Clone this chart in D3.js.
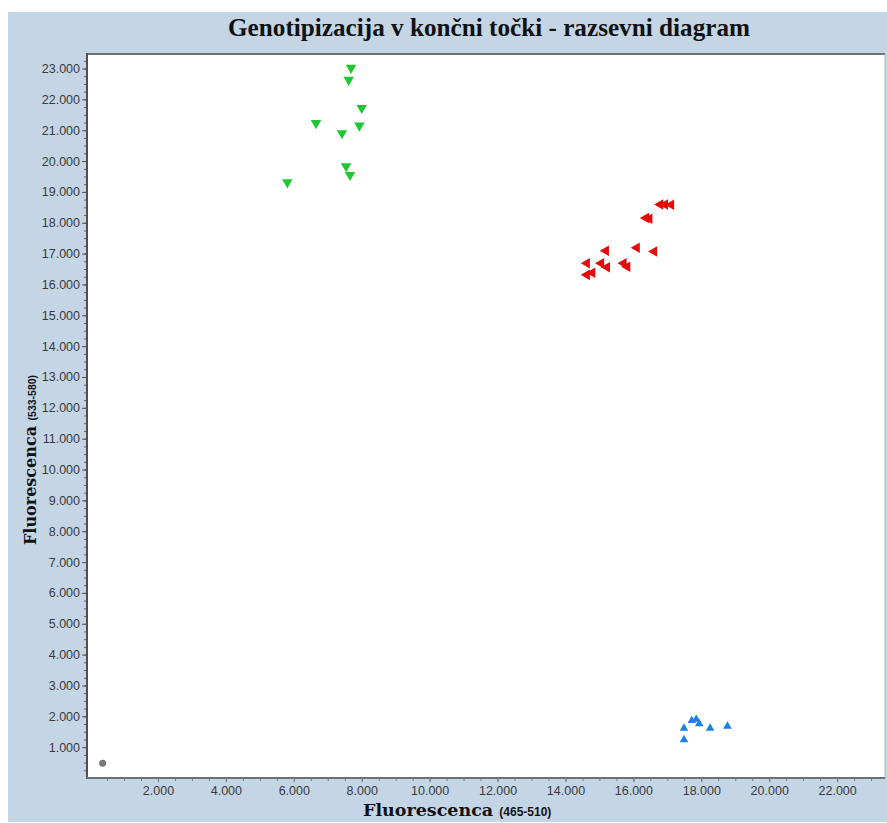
<!DOCTYPE html>
<html>
<head>
<meta charset="utf-8">
<script src="https://cdn.jsdelivr.net/npm/d3@7"></script>
<style>
  body { margin: 0; background: #fff; }
  svg { display: block; }
</style>
</head>
<body>
<div id="chart"></div>
<script>
// Measured points, [x, y] in fluorescence units
const greenPoints = [
  [7685, 23020], [7617, 22630], [8000, 21720], [6654, 21230], [7930, 21150],
  [7420, 20900], [7540, 19830], [7655, 19550], [5810, 19310]
];
const redPoints = [
  [16790, 18590], [16930, 18590], [17110, 18580], [16370, 18150], [16470, 18130],
  [16100, 17190], [16610, 17070], [15190, 17090], [14630, 16690], [15050, 16690],
  [15220, 16560], [15710, 16690], [15820, 16570], [14630, 16310], [14790, 16380]
];
const bluePoints = [
  [17490, 1610], [17490, 1240], [17720, 1860], [17850, 1900], [17940, 1760],
  [18260, 1610], [18770, 1680]
];
const grayPoints = [[370, 480]];

const xTicks = [2000, 4000, 6000, 8000, 10000, 12000, 14000, 16000, 18000, 20000, 22000];
const yTicks = [1000, 2000, 3000, 4000, 5000, 6000, 7000, 8000, 9000, 10000, 11000, 12000,
  13000, 14000, 15000, 16000, 17000, 18000, 19000, 20000, 21000, 22000, 23000];

const width = 887, height = 823;
const plot = { left: 87, right: 885, top: 54, bottom: 778 };

const svg = d3.select('#chart').append('svg')
  .attr('width', width)
  .attr('height', height);

// Blue panel background
svg.append('rect')
  .attr('x', 8).attr('y', 12)
  .attr('width', width - 8).attr('height', 810)
  .attr('fill', '#c4d5e6');

svg.append('text')
  .attr('x', 228).attr('y', 36)
  .attr('textLength', 522)
  .attr('lengthAdjust', 'spacingAndGlyphs')
  .style('font-family', '"Liberation Serif", serif')
  .style('font-weight', 'bold')
  .style('font-size', '26px')
  .attr('fill', '#111')
  .text('Genotipizacija v končni točki - razsevni diagram');

// Plot area
svg.append('rect')
  .attr('x', plot.left).attr('y', plot.top)
  .attr('width', plot.right - plot.left).attr('height', plot.bottom - plot.top)
  .attr('fill', '#fff');

const x = d3.scaleLinear().domain([-90, 23410]).range([plot.left, plot.right]);
const y = d3.scaleLinear().domain([0, 23470]).range([plot.bottom, plot.top]);

const fmt = d3.formatLocale({ decimal: ',', thousands: '.', grouping: [3], currency: ['', ''] }).format(',.0f');

// minor ticks
svg.append('g')
  .attr('transform', `translate(0,${plot.bottom})`)
  .call(d3.axisBottom(x).tickValues(d3.range(500, 23001, 500)).tickSize(3).tickFormat(''))
  .call(g => g.select('.domain').remove())
  .selectAll('line').attr('stroke', '#777');

svg.append('g')
  .attr('transform', `translate(${plot.left},0)`)
  .call(d3.axisLeft(y).tickValues(d3.range(250, 23401, 250)).tickSize(3).tickFormat(''))
  .call(g => g.select('.domain').remove())
  .selectAll('line').attr('stroke', '#666');

// major ticks
const xAxis = svg.append('g')
  .attr('transform', `translate(0,${plot.bottom})`)
  .call(d3.axisBottom(x).tickValues(xTicks).tickSize(4).tickPadding(4).tickFormat(fmt));
xAxis.select('.domain').remove();
xAxis.selectAll('line').attr('stroke', '#777');
xAxis.selectAll('text')
  .attr('fill', '#3a3a3a')
  .style('font-family', '"Liberation Sans", Arial, sans-serif')
  .style('font-size', '12.5px');

const yAxis = svg.append('g')
  .attr('transform', `translate(${plot.left},0)`)
  .call(d3.axisLeft(y).tickValues(yTicks).tickSize(5).tickPadding(2).tickFormat(fmt));
yAxis.select('.domain').remove();
yAxis.selectAll('line').attr('stroke', '#555');
yAxis.selectAll('text')
  .attr('fill', '#3a3a3a')
  .style('font-family', '"Liberation Sans", Arial, sans-serif')
  .style('font-size', '12.5px');

// Frame lines
svg.append('line').attr('x1', plot.left).attr('x2', plot.right).attr('y1', plot.top).attr('y2', plot.top)
  .attr('stroke', '#707070').attr('stroke-width', 2);
svg.append('line').attr('x1', plot.right).attr('x2', plot.right).attr('y1', plot.top).attr('y2', plot.bottom)
  .attr('stroke', '#b0b0b0').attr('stroke-width', 1);
svg.append('line').attr('x1', plot.left).attr('x2', plot.left).attr('y1', plot.top - 1).attr('y2', plot.bottom + 1)
  .attr('stroke', '#505050').attr('stroke-width', 2);
svg.append('line').attr('x1', plot.left).attr('x2', plot.right).attr('y1', plot.bottom).attr('y2', plot.bottom)
  .attr('stroke', '#707070').attr('stroke-width', 2);

// Markers
const series = [
  { pts: greenPoints, color: '#1ec832', rot: 180, size: 48 },
  { pts: redPoints, color: '#e60a0a', rot: -90, size: 48 },
  { pts: bluePoints, color: '#1a7fe8', rot: 0, size: 32 }
];
series.forEach(s => {
  svg.append('g').selectAll('path')
    .data(s.pts)
    .join('path')
    .attr('d', d3.symbol(d3.symbolTriangle, s.size))
    .attr('transform', d => `translate(${x(d[0])},${y(d[1])}) rotate(${s.rot})`)
    .attr('fill', s.color);
});

svg.append('g').selectAll('circle')
  .data(grayPoints)
  .join('circle')
  .attr('cx', d => x(d[0]))
  .attr('cy', d => y(d[1]))
  .attr('r', 3.5)
  .attr('fill', '#777');

// Axis titles
const xLabel = svg.append('text')
  .attr('x', 363).attr('y', 816)
  .attr('fill', '#111')
  .style('font-weight', 'bold');
xLabel.append('tspan')
  .style('font-family', '"DejaVu Serif", serif')
  .style('font-size', '17.5px')
  .text('Fluorescenca ');
xLabel.append('tspan')
  .style('font-family', '"Liberation Sans", Arial, sans-serif')
  .style('font-size', '12px')
  .text('(465-510)');

const yLabel = svg.append('text')
  .attr('transform', 'translate(36,545) rotate(-90)')
  .attr('fill', '#111')
  .style('font-weight', 'bold');
yLabel.append('tspan')
  .style('font-family', '"DejaVu Serif", serif')
  .style('font-size', '16px')
  .text('Fluorescenca ');
yLabel.append('tspan')
  .style('font-family', '"Liberation Sans", Arial, sans-serif')
  .style('font-size', '10.5px')
  .text('(533-580)');
</script>
</body>
</html>
